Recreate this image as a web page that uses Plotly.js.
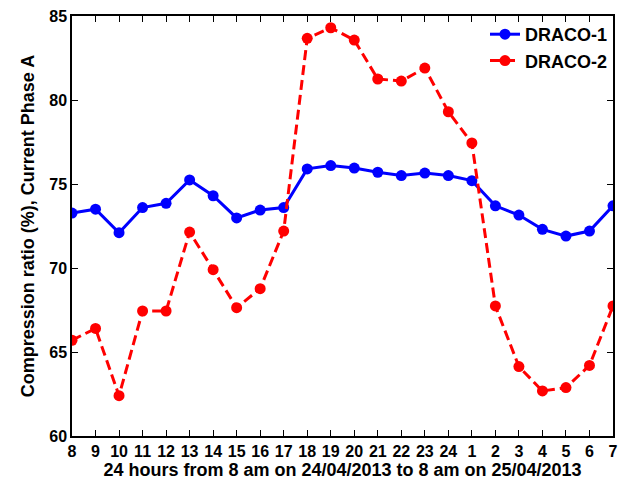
<!DOCTYPE html>
<html>
<head>
<meta charset="utf-8">
<script src="https://cdn.plot.ly/plotly-3.0.1.min.js"></script>
<style>html,body{margin:0;padding:0;background:#fff;}#chart{width:624px;height:483px;}</style>
</head>
<body>
<div id="chart"></div>
<script>
var hours = ["8","9","10","11","12","13","14","15","16","17","18","19","20","21","22","23","24","1","2","3","4","5","6","7"];
var draco1 = [73.27,73.5,72.1,73.6,73.85,75.24,74.3,72.98,73.45,73.6,75.9,76.1,75.95,75.7,75.5,75.65,75.5,75.2,73.7,73.15,72.3,71.9,72.2,73.7];
var draco2 = [65.7,66.4,62.4,67.44,67.44,72.14,69.9,67.64,68.77,72.2,83.67,84.3,83.57,81.25,81.13,81.9,79.3,77.44,67.74,64.13,62.68,62.88,64.2,67.74];
var xs = hours.map(function(h,i){return i;});
var font = {family:"Liberation Sans, Arial, sans-serif", size:16, color:"#000"};
var traces = [
  {x:xs, y:draco1, name:"<b>DRACO-1</b>", mode:"lines+markers", line:{color:"#0000ff", width:3}, marker:{color:"#0000ff", size:11}},
  {x:xs, y:draco2, name:"<b>DRACO-2</b>", mode:"lines+markers", line:{color:"#ff0000", width:3, dash:"10px,5px"}, marker:{color:"#ff0000", size:11}}
];
var layout = {
  width:624, height:483,
  margin:{l:72, r:11, t:16, b:47},
  paper_bgcolor:"#fff", plot_bgcolor:"#fff",
  font:font,
  showlegend:true,
  legend:{x:1, xanchor:"right", y:1, yanchor:"top", bgcolor:"rgba(255,255,255,0)", font:{family:font.family, size:18, color:"#000"}, tracegroupgap:0, itemwidth:30},
  xaxis:{range:[0,23], tickmode:"array", tickvals:xs, ticktext:hours.map(function(h){return "<b>"+h+"</b>";}),
    ticks:"inside", ticklen:6, tickcolor:"#000", showline:true, linecolor:"#000", linewidth:1.5, mirror:"ticks",
    showgrid:false, zeroline:false, tickangle:0, tickfont:{size:16},
    title:{text:"<b>24 hours from 8 am on 24/04/2013 to 8 am on 25/04/2013</b>", font:{size:18}, standoff:0}},
  yaxis:{range:[60,85], tickvals:[60,65,70,75,80,85], ticktext:["<b>60</b>","<b>65</b>","<b>70</b>","<b>75</b>","<b>80</b>","<b>85</b>"],
    ticks:"inside", ticklen:6, tickcolor:"#000", showline:true, linecolor:"#000", linewidth:1.5, mirror:"ticks",
    showgrid:false, zeroline:false, tickfont:{size:16},
    title:{text:"<b>Compression ratio (%), Current Phase A</b>", font:{size:18}, standoff:10}}
};
Plotly.newPlot("chart", traces, layout, {displayModeBar:false});
</script>
</body>
</html>
